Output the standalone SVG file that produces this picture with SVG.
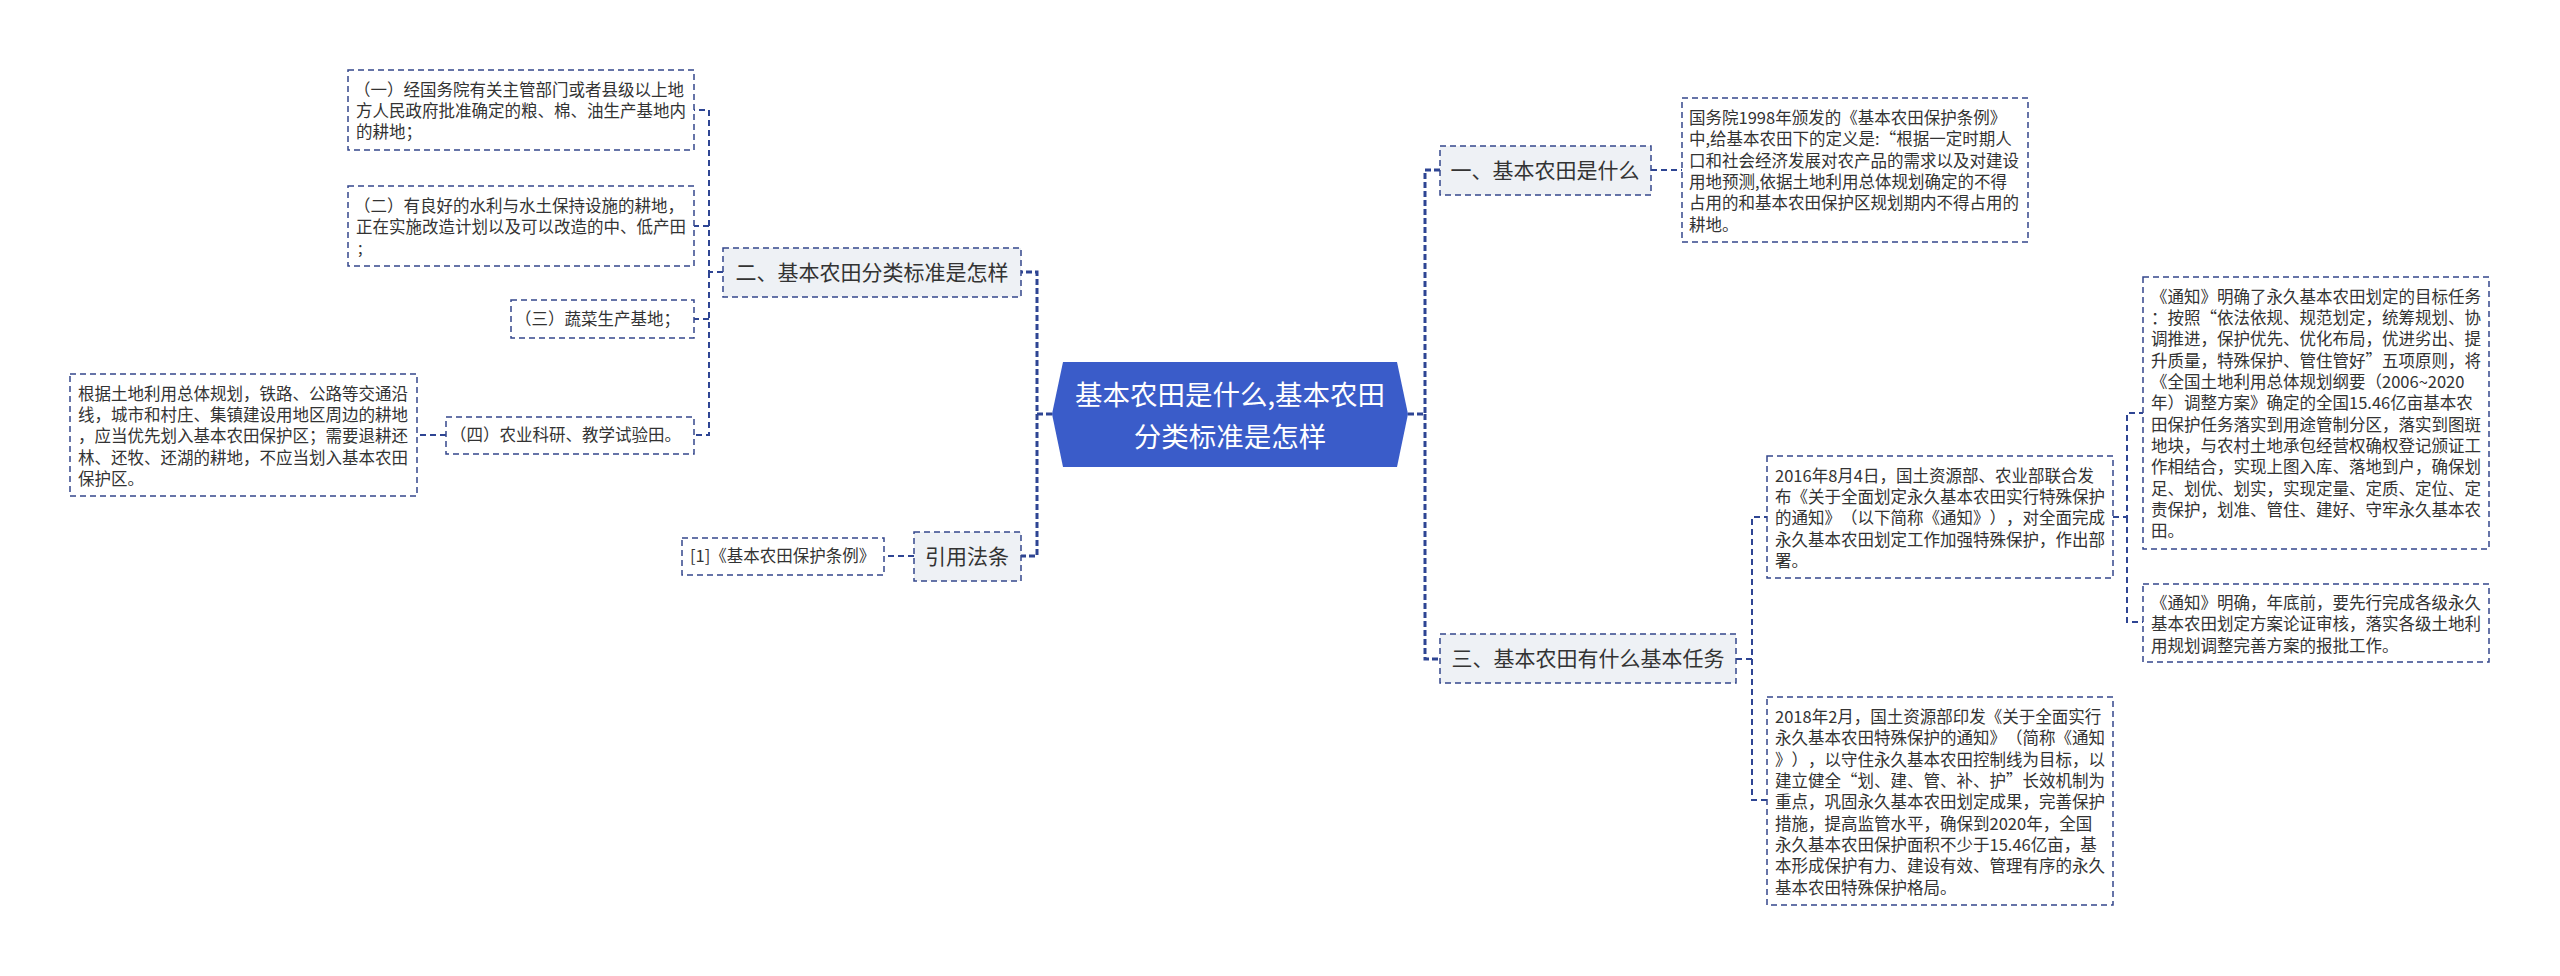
<svg xmlns="http://www.w3.org/2000/svg" width="2560" height="976" viewBox="0 0 2560 976">
<style>
text{font-family:"Noto Sans CJK SC","Noto Sans",sans-serif;fill:#333;text-spacing-trim:space-all}
.leaf{fill:#fff;stroke:#35478c;stroke-width:1.5;stroke-dasharray:6 4}
.node{fill:#eef1f5;stroke:#35478c;stroke-width:1.5;stroke-dasharray:6 4}
.lt{font-size:16.5px}
.nt{font-size:21px;text-anchor:middle}
.c{fill:none;stroke:#2e4593;stroke-width:2;stroke-dasharray:6 4}
.trunk{fill:none;stroke:#2e4593;stroke-width:3;stroke-dasharray:6 3}
</style>
<rect width="2560" height="976" fill="#fff"/>
<g id="connectors">
<path class="trunk" d="M1052 414H1037V272H1021M1037 414V556H1021"/>
<path class="trunk" d="M1408 414H1425V170H1440M1425 414V659H1440"/>
<path class="c" d="M723 272H709V110H694M709 272V435H694M709 226H694M709 319H694"/>
<path class="c" d="M446 435H417"/>
<path class="c" d="M914 556H884"/>
<path class="c" d="M1651 170H1682"/>
<path class="c" d="M1736 659H1752V517H1767M1752 659V800H1767"/>
<path class="c" d="M2113 517H2127V413H2143M2127 517V622H2143"/>
</g>
<g id="root">
<polygon points="1052,414 1063,362 1397,362 1408,414 1397,467 1063,467" fill="#3a5cc9"/>
<text x="1230" y="405" style="font-size:27.5px;fill:#fff;text-anchor:middle">基本农田是什么,基本农田</text>
<text x="1230" y="447" style="font-size:27.5px;fill:#fff;text-anchor:middle">分类标准是怎样</text>
</g>
<g id="n2">
<rect class="node" x="723" y="248" width="298" height="49"/>
<text class="nt" x="872" y="280">二、基本农田分类标准是怎样</text>
</g>
<g id="n2a">
<rect class="leaf" x="348" y="70" width="346" height="80"/>
<text class="lt" x="354" y="96">（一）经国务院有关主管部门或者县级以上地</text>
<text class="lt" x="356" y="117">方人民政府批准确定的粮、棉、油生产基地内</text>
<text class="lt" x="356" y="138">的耕地；</text>
</g>
<g id="n2b">
<rect class="leaf" x="348" y="186" width="346" height="80"/>
<text class="lt" x="354" y="212">（二）有良好的水利与水土保持设施的耕地，</text>
<text class="lt" x="356" y="233">正在实施改造计划以及可以改造的中、低产田</text>
<text class="lt" x="358" y="254">;</text>
</g>
<g id="n2c">
<rect class="leaf" x="511" y="300" width="183" height="38"/>
<text class="lt" x="515" y="325">（三）蔬菜生产基地；</text>
</g>
<g id="n2d">
<rect class="leaf" x="446" y="417" width="248" height="37"/>
<text class="lt" x="450" y="441">（四）农业科研、教学试验田。</text>
</g>
<g id="n2d1">
<rect class="leaf" x="70" y="374" width="347" height="122"/>
<text class="lt" x="78" y="400">根据土地利用总体规划，铁路、公路等交通沿</text>
<text class="lt" x="78" y="421">线，城市和村庄、集镇建设用地区周边的耕地</text>
<text class="lt" x="78" y="442">，应当优先划入基本农田保护区；需要退耕还</text>
<text class="lt" x="78" y="464">林、还牧、还湖的耕地，不应当划入基本农田</text>
<text class="lt" x="78" y="485">保护区。</text>
</g>
<g id="ref">
<rect class="node" x="914" y="532" width="107" height="49"/>
<text class="nt" x="967" y="564">引用法条</text>
</g>
<g id="ref1">
<rect class="leaf" x="682" y="538" width="202" height="37"/>
<text class="lt" x="690" y="562">[1]《基本农田保护条例》</text>
</g>
<g id="n1">
<rect class="node" x="1440" y="146" width="211" height="49"/>
<text class="nt" x="1545" y="178">一、基本农田是什么</text>
</g>
<g id="n1a">
<rect class="leaf" x="1682" y="98" width="346" height="144"/>
<text class="lt" x="1689" y="124">国务院1998年颁发的《基本农田保护条例》</text>
<text class="lt" x="1689" y="145">中,给基本农田下的定义是:“根据一定时期人</text>
<text class="lt" x="1689" y="167">口和社会经济发展对农产品的需求以及对建设</text>
<text class="lt" x="1689" y="188">用地预测,依据土地利用总体规划确定的不得</text>
<text class="lt" x="1689" y="209">占用的和基本农田保护区规划期内不得占用的</text>
<text class="lt" x="1689" y="231">耕地。</text>
</g>
<g id="n3">
<rect class="node" x="1440" y="634" width="296" height="49"/>
<text class="nt" x="1588" y="666">三、基本农田有什么基本任务</text>
</g>
<g id="n3a">
<rect class="leaf" x="1767" y="456" width="346" height="122"/>
<text class="lt" x="1775" y="482">2016年8月4日，国土资源部、农业部联合发</text>
<text class="lt" x="1775" y="503">布《关于全面划定永久基本农田实行特殊保护</text>
<text class="lt" x="1775" y="524">的通知》（以下简称《通知》），对全面完成</text>
<text class="lt" x="1775" y="546">永久基本农田划定工作加强特殊保护，作出部</text>
<text class="lt" x="1775" y="567">署。</text>
</g>
<g id="n3a1">
<rect class="leaf" x="2143" y="277" width="346" height="272"/>
<text class="lt" x="2151" y="303">《通知》明确了永久基本农田划定的目标任务</text>
<text class="lt" x="2151" y="324">：按照“依法依规、规范划定，统筹规划、协</text>
<text class="lt" x="2151" y="345">调推进，保护优先、优化布局，优进劣出、提</text>
<text class="lt" x="2151" y="367">升质量，特殊保护、管住管好”五项原则，将</text>
<text class="lt" x="2151" y="388">《全国土地利用总体规划纲要（2006~2020</text>
<text class="lt" x="2151" y="409">年）调整方案》确定的全国15.46亿亩基本农</text>
<text class="lt" x="2151" y="431">田保护任务落实到用途管制分区，落实到图斑</text>
<text class="lt" x="2151" y="452">地块，与农村土地承包经营权确权登记颁证工</text>
<text class="lt" x="2151" y="473">作相结合，实现上图入库、落地到户，确保划</text>
<text class="lt" x="2151" y="495">足、划优、划实，实现定量、定质、定位、定</text>
<text class="lt" x="2151" y="516">责保护，划准、管住、建好、守牢永久基本农</text>
<text class="lt" x="2151" y="537">田。</text>
</g>
<g id="n3a2">
<rect class="leaf" x="2143" y="584" width="346" height="78"/>
<text class="lt" x="2151" y="609">《通知》明确，年底前，要先行完成各级永久</text>
<text class="lt" x="2151" y="630">基本农田划定方案论证审核，落实各级土地利</text>
<text class="lt" x="2151" y="652">用规划调整完善方案的报批工作。</text>
</g>
<g id="n3b">
<rect class="leaf" x="1767" y="697" width="346" height="208"/>
<text class="lt" x="1775" y="723">2018年2月，国土资源部印发《关于全面实行</text>
<text class="lt" x="1775" y="744">永久基本农田特殊保护的通知》（简称《通知</text>
<text class="lt" x="1775" y="766">》），以守住永久基本农田控制线为目标，以</text>
<text class="lt" x="1775" y="787">建立健全“划、建、管、补、护”长效机制为</text>
<text class="lt" x="1775" y="808">重点，巩固永久基本农田划定成果，完善保护</text>
<text class="lt" x="1775" y="830">措施，提高监管水平，确保到2020年，全国</text>
<text class="lt" x="1775" y="851">永久基本农田保护面积不少于15.46亿亩，基</text>
<text class="lt" x="1775" y="872">本形成保护有力、建设有效、管理有序的永久</text>
<text class="lt" x="1775" y="894">基本农田特殊保护格局。</text>
</g>
</svg>
